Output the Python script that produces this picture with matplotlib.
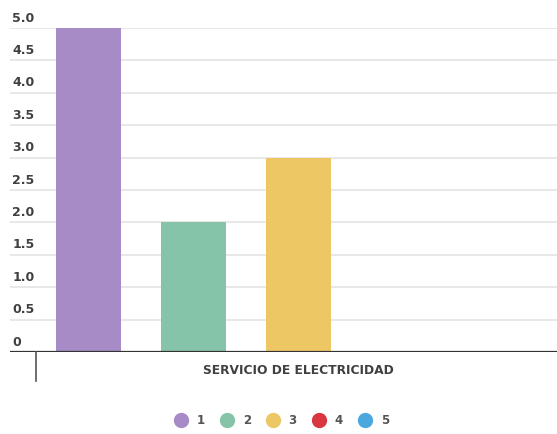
import matplotlib.pyplot as plt
from matplotlib.lines import Line2D

categoria = 'SERVICIO DE ELECTRICIDAD'
series = ['1', '2', '3', '4', '5']
valores = [5.0, 2.0, 3.0, 0.0, 0.0]
colores = ['#a68bc6', '#86c4a9', '#eec765', '#d8373f', '#4ba8df']
yticks = [0, 0.5, 1.0, 1.5, 2.0, 2.5, 3.0, 3.5, 4.0, 4.5, 5.0]
ytick_labels = ['0', '0.5', '1.0', '1.5', '2.0', '2.5', '3.0', '3.5', '4.0', '4.5', '5.0']

plt.rcParams['font.family'] = ['DejaVu Sans']

fig = plt.figure(figsize=(5.57, 4.34), dpi=100)
ax = fig.add_axes([10/557, 82/434, 547/557, 324/434])

pos = list(range(len(series)))
ax.bar(pos, valores, width=0.62, color=colores, zorder=3)

ax.set_xlim(-0.748, 4.462)
ax.set_ylim(0, 5)

# horizontal grid
for y in yticks[1:]:
    ax.axhline(y, color='#e6e6e6', lw=1.3, zorder=1)
ax.axhline(0, color='#333333', lw=1.6, zorder=4)

ax.set_xticks([])
ax.set_yticks([])
for s in ax.spines.values():
    s.set_visible(False)

# y labels sit above each gridline
for y, lab in zip(yticks, ytick_labels):
    ax.annotate(lab, xy=(0, y), xycoords=('axes fraction', 'data'),
                xytext=(1.5, 2.5), textcoords='offset points',
                ha='left', va='bottom', fontsize=9, color='#404040',
                fontweight='bold')

# category tick at the left edge of the band
ax.plot([-0.5, -0.5], [0, -0.45], color='#555555', lw=1.2,
        clip_on=False, zorder=4)
ax.text(2.0, -0.28, categoria, transform=ax.transData, ha='center',
        va='center', fontsize=8.8, color='#404040', fontweight='bold',
        clip_on=False)

handles = [Line2D([], [], marker='o', ls='none', markersize=10,
                  markerfacecolor=c, markeredgecolor=c) for c in colores]
fig.legend(handles, series, loc='center', bbox_to_anchor=(279/557, 1 - 421/434),
           ncol=5, frameon=False, handletextpad=0.35, columnspacing=0.85,
           labelcolor='#555555', prop={'size': 8.5, 'weight': 'bold'})

fig.savefig('out.png', dpi=100)
